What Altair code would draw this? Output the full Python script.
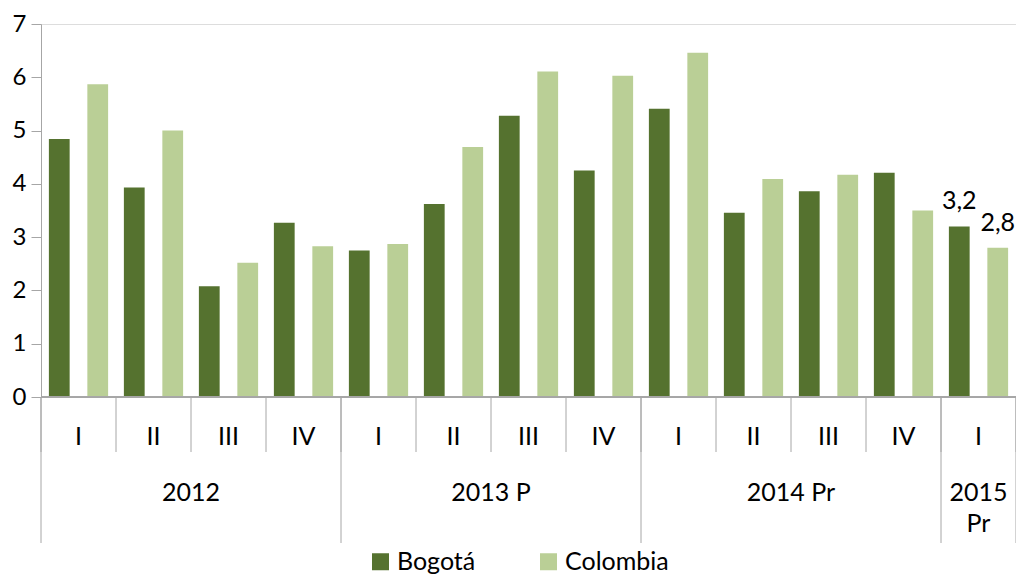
import altair as alt
import pandas as pd

# ---- data ----
quarters = ["I", "II", "III", "IV", "I", "II", "III", "IV", "I", "II", "III", "IV", "I"]
years = ["2012", "2012", "2012", "2012", "2013 P", "2013 P", "2013 P", "2013 P",
         "2014 Pr", "2014 Pr", "2014 Pr", "2014 Pr", "2015 Pr"]
bogota = [4.84, 3.93, 2.08, 3.27, 2.75, 3.62, 5.28, 4.25, 5.41, 3.46, 3.86, 4.21, 3.2]
colombia = [5.87, 5.00, 2.52, 2.83, 2.87, 4.69, 6.11, 6.03, 6.46, 4.09, 4.17, 3.50, 2.8]
series = ["Bogotá", "Colombia"]
year_labels = ["2012", "2013 P", "2014 Pr", "2015"]
year_labels2 = ["", "", "", "Pr"]
year_counts = [4, 4, 4, 1]
y_ticks = [0, 1, 2, 3, 4, 5, 6, 7]

DARK = "#55722f"
LIGHT = "#bacf96"
GRID = "#a6a6a6"
FONT = "Lato"

W, H = 975, 373

# ---- tables ----
qid = [f"{y}-{q}-{k}" for k, (y, q) in enumerate(zip(years, quarters))]
rows = []
for k in range(len(quarters)):
    rows.append({"qid": qid[k], "serie": series[0], "v": bogota[k], "last": k == len(quarters) - 1})
    rows.append({"qid": qid[k], "serie": series[1], "v": colombia[k], "last": k == len(quarters) - 1})
bars_df = pd.DataFrame(rows)

qdf = pd.DataFrame({"i": list(range(len(quarters))), "q": quarters})
qsep = pd.DataFrame({"i": list(range(len(quarters) + 1))})
starts = [sum(year_counts[:k]) for k in range(len(year_counts))]
ydf = pd.DataFrame({"start": starts, "n": year_counts, "l1": year_labels, "l2": year_labels2})
ysep = pd.DataFrame({"i": starts + [sum(year_counts)]})

xq = alt.Scale(domain=[0, len(quarters)])
yscale = alt.Scale(domain=[0, 7])
xband = alt.Scale(paddingInner=0, paddingOuter=0)
offscale = alt.Scale(paddingInner=0.46, paddingOuter=0.205)

base_bar = alt.Chart(bars_df)
bars = base_bar.mark_bar().encode(
    x=alt.X("qid:N", sort=qid, axis=None, scale=xband),
    xOffset=alt.XOffset("serie:N", sort=series, scale=offscale),
    y=alt.Y("v:Q", scale=yscale,
            axis=alt.Axis(values=y_ticks, format="d", title=None, grid=False, tickSize=10,
                          labelPadding=5, domainColor=GRID, tickColor=GRID,
                          labelFont=FONT, labelFontSize=24, labelColor="#000000")),
    color=alt.Color("serie:N", sort=series,
                    scale=alt.Scale(domain=series, range=[DARK, LIGHT]),
                    legend=alt.Legend(title=None, orient="none", legendX=327, legendY=525,
                                      direction="horizontal", symbolType="square",
                                      symbolSize=289, symbolStrokeWidth=0,
                                      labelFont=FONT, labelFontSize=25, labelColor="#000000",
                                      columnPadding=60, labelOffset=4)),
)

vlabels = base_bar.transform_filter("datum.last").transform_calculate(
    lab="replace(format(datum.v, '.1f'), '.', ',')"
).mark_text(font=FONT, fontSize=25, color="#000000", baseline="alphabetic", dy=-17).encode(
    x=alt.X("qid:N", sort=qid, axis=None, scale=xband),
    xOffset=alt.XOffset("serie:N", sort=series, scale=offscale),
    y=alt.Y("v:Q", scale=yscale),
    text="lab:N",
)

zero = alt.Chart(qsep).mark_rule(color=GRID, strokeWidth=1).encode(
    y=alt.datum(0, scale=yscale), x=alt.value(0), x2=alt.value(W)
)

qsep_r = alt.Chart(qsep).mark_rule(color=GRID, strokeWidth=1).encode(
    x=alt.X("i:Q", scale=xq, axis=None), y=alt.value(H), y2=alt.value(428)
)
ysep_r = alt.Chart(ysep).mark_rule(color=GRID, strokeWidth=1).encode(
    x=alt.X("i:Q", scale=xq, axis=None), y=alt.value(H), y2=alt.value(519)
)
qtext = alt.Chart(qdf).transform_calculate(c="datum.i + 0.5").mark_text(
    font=FONT, fontSize=25, color="#000000", baseline="middle"
).encode(x=alt.X("c:Q", scale=xq, axis=None), y=alt.value(413), text="q:N")

ytext1 = alt.Chart(ydf).transform_calculate(c="datum.start + datum.n / 2").mark_text(
    font=FONT, fontSize=25, color="#000000", baseline="middle"
).encode(x=alt.X("c:Q", scale=xq, axis=None), y=alt.value(469), text="l1:N")
ytext2 = alt.Chart(ydf).transform_calculate(c="datum.start + datum.n / 2").mark_text(
    font=FONT, fontSize=25, color="#000000", baseline="middle"
).encode(x=alt.X("c:Q", scale=xq, axis=None), y=alt.value(500), text="l2:N")

chart = alt.layer(
    alt.layer(bars, vlabels),
    alt.layer(zero, qsep_r, ysep_r, qtext, ytext1, ytext2),
).resolve_scale(x="independent", xOffset="independent").properties(
    width=W, height=H,
    autosize=alt.AutoSizeParams(type="none"),
    padding={"left": 33, "top": 16, "right": 0, "bottom": 182},
).configure_view(stroke=None).configure(font=FONT)

chart.save("out.html", embed_options={"renderer": "svg", "actions": False})
